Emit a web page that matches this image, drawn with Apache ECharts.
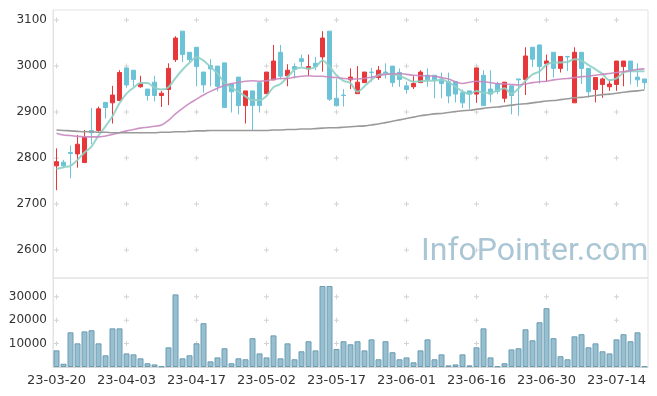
<!DOCTYPE html>
<html>
<head>
<meta charset="utf-8">
<script src="https://cdn.jsdelivr.net/npm/echarts@6/dist/echarts.min.js"></script>
<style>html,body{margin:0;padding:0;background:#fff}#c{width:657px;height:396px}</style>
</head>
<body>
<div id="c"></div>
<script>
var dates = ['23-03-20','23-03-21','23-03-22','23-03-23','23-03-24','23-03-27','23-03-28','23-03-29','23-03-30','23-03-31',
'23-04-03','23-04-04','23-04-05','23-04-06','23-04-07','23-04-10','23-04-11','23-04-12','23-04-13','23-04-14',
'23-04-17','23-04-18','23-04-19','23-04-20','23-04-21','23-04-24','23-04-25','23-04-26','23-04-27','23-04-28',
'23-05-02','23-05-03','23-05-04','23-05-08','23-05-09','23-05-10','23-05-11','23-05-12','23-05-15','23-05-16',
'23-05-17','23-05-18','23-05-19','23-05-22','23-05-23','23-05-24','23-05-25','23-05-26','23-05-30','23-05-31',
'23-06-01','23-06-02','23-06-05','23-06-07','23-06-08','23-06-09','23-06-12','23-06-13','23-06-14','23-06-15',
'23-06-16','23-06-19','23-06-20','23-06-21','23-06-22','23-06-23','23-06-26','23-06-27','23-06-28','23-06-29',
'23-06-30','23-07-03','23-07-04','23-07-05','23-07-06','23-07-07','23-07-10','23-07-11','23-07-12','23-07-13',
'23-07-14','23-07-17','23-07-18','23-07-19','23-07-20'];

var openP = [2783,2791,2812,2809,2790,2860,2860,2921,2920,2925,2996,2991,2955,2950,2965,2936,2949,3014,3076,3030,
3041,2987,3001,3000,3007,2961,2976,2914,2946,2964,2940,2970,3030,2979,2999,3016,2994,3006,3020,3076,
2930,2937,2970,2940,2964,2987,2975,2987,3000,2986,2957,2955,2964,2980,2980,2972,2966,2966,2942,2946,
2939,2980,2950,2961,2930,2957,2972,2971,3041,3046,3005,3030,2995,3021,2920,3030,2995,2949,2960,2955,
2960,2999,3011,2976,2972];
var closeP = [2792,2783,2810,2830,2845,2855,2907,2910,2937,2986,2959,2971,2962,2936,2936,2941,2995,3061,3025,3014,
2999,2959,2994,2956,2910,2944,2914,2946,2914,2914,2987,3011,2978,2991,2993,3010,2999,2999,3061,2928,
2914,2936,2976,2965,2987,2986,2991,2985,2964,2971,2949,2962,2987,2970,2970,2962,2935,2939,2920,2939,
2996,2914,2939,2945,2965,2936,2970,3022,3015,2999,3011,2995,3021,3020,3030,2995,2944,2975,2972,2961,
3011,3011,2991,2970,2964];
var lowP = [2730,2778,2756,2779,2790,2830,2857,2886,2875,2925,2953,2955,2953,2925,2923,2911,2915,3009,3009,3009,
2956,2942,2956,2945,2910,2899,2895,2875,2861,2899,2940,2970,2971,2956,2973,2999,2978,2991,2988,2924,
2912,2912,2950,2940,2964,2966,2970,2973,2955,2955,2940,2950,2964,2955,2930,2930,2919,2921,2909,2907,
2920,2914,2921,2939,2921,2895,2892,2937,2998,2962,2966,2975,2986,2989,2920,2961,2931,2921,2931,2946,
2946,2956,2960,2955,2950];
var highP = [2821,2796,2827,2850,2861,2909,2912,2921,2957,2991,2996,2991,2979,2950,2979,2946,3006,3065,3076,3030,
3041,2987,3015,3000,3007,2961,2976,2946,2946,2964,2987,3046,3046,3004,3006,3025,3025,3020,3076,3076,
2973,2950,2995,3000,2987,2996,3000,3006,3000,2995,2966,2978,2991,2995,2980,2986,2986,2966,2949,2946,
2996,2991,2991,2966,2965,2957,2972,3041,3041,3046,3025,3030,3021,3021,3041,3030,2995,2975,2975,2971,
3011,3011,3011,3006,2972];

var ma5 = [2776,2780,2783,2796,2812,2825,2849,2869,2891,2919,2940,2953,2963,2963,2953,2949,2954,2974,2992,3007,
3019,3012,2998,2984,2964,2953,2944,2934,2926,2926,2935,2954,2961,2976,2992,2997,2994,2998,3012,2999,
2980,2968,2963,2944,2956,2970,2981,2983,2983,2979,2972,2966,2967,2968,2968,2970,2965,2955,2945,2939,
2946,2942,2942,2947,2952,2940,2951,2968,2982,2988,3003,3008,3008,3009,3015,3012,3002,2993,2983,2969,
2973,2986,2989,2989,2989];
var ma20 = [2854,2850,2849,2847,2846,2846,2846,2848,2851,2855,2859,2862,2865,2867,2869,2872,2882,2896,2908,2919,
2928,2937,2945,2952,2958,2962,2965,2967,2968,2967,2968,2971,2973,2973,2976,2978,2979,2978,2978,2976,
2975,2973,2972,2972,2973,2976,2979,2982,2983,2984,2982,2980,2979,2979,2978,2975,2972,2966,2962,2965,
2967,2966,2964,2962,2961,2960,2959,2961,2964,2966,2967,2970,2972,2973,2975,2977,2978,2980,2982,2984,
2986,2988,2990,2993,2994];
var ma60 = [2861,2860,2859,2858,2857,2857,2856,2856,2855,2855,2855,2855,2855,2855,2855,2856,2856,2857,2857,2858,
2859,2859,2860,2860,2860,2860,2860,2860,2860,2860,2860,2861,2861,2862,2862,2863,2863,2864,2865,2866,
2866,2867,2868,2869,2870,2872,2874,2877,2880,2883,2886,2889,2892,2894,2896,2897,2899,2901,2903,2904,
2906,2908,2910,2911,2913,2915,2917,2918,2920,2922,2924,2925,2927,2929,2931,2932,2934,2936,2938,2939,
2941,2943,2945,2946,2948];
var volume = [7100,1400,14800,10100,15200,15700,10100,5000,16500,16500,5800,5400,3700,1600,1100,300,8400,31000,3700,5000,
10100,18700,2400,4100,8000,1600,3700,3300,12300,5800,4100,13500,3700,10100,3300,6700,11000,7100,34600,34600,
7700,11000,9700,11000,7100,11800,3300,11000,6300,3300,4100,2000,7100,11800,3300,5400,700,1100,5400,700,
8400,16500,4100,300,1600,7500,8000,16100,11400,19100,25100,12300,4600,3300,13100,14000,8400,10100,6700,5800,
11800,14000,11000,14800,300];

var priceTicks = [2600,2700,2800,2900,3000,3100];
var volumeTicks = [10000,20000,30000];
var labelIdx = [0,10,20,30,40,50,60,70,80];

var candles = openP.map(function(o,i){return [o, closeP[i], lowP[i], highP[i]];});
var crossPrice = [], crossVol = [];
labelIdx.forEach(function(x){
  priceTicks.forEach(function(y){crossPrice.push([x,y]);});
  volumeTicks.forEach(function(y){crossVol.push([x,y]);});
});
var plus = 'path://M2,0H3V2H5V3H3V5H2V3H0V2H2Z';
var font = 'DejaVu Sans';

var chart = echarts.init(document.getElementById('c'), null, {renderer:'canvas'});
chart.setOption({
  animation:false,
  backgroundColor:'#fff',
  graphic:[{type:'text', left:421, top:236, z:0, silent:true,
    style:{text:'InfoPointer.com', fill:'#aac6d5', font:'32px Roboto'}}],
  grid:[
    {left:53, right:9, top:10, height:268, show:true, borderColor:'#e3e3e3', borderWidth:1, backgroundColor:'transparent'},
    {left:53, right:9, top:278, height:89, show:true, borderColor:'#e3e3e3', borderWidth:1, backgroundColor:'transparent'}
  ],
  xAxis:[
    {type:'category', gridIndex:0, data:dates, boundaryGap:true,
     axisLine:{show:false}, axisTick:{show:false}, axisLabel:{show:false}, splitLine:{show:false}},
    {type:'category', gridIndex:1, data:dates, boundaryGap:true,
     axisLine:{show:true, lineStyle:{color:'#d6d6d6'}}, axisTick:{show:false},
     axisLabel:{interval:9, fontSize:13, fontFamily:font, color:'#333', margin:7}, splitLine:{show:false}}
  ],
  yAxis:[
    {type:'value', gridIndex:0, min:2539, max:3122, scale:true,
     axisLine:{show:true, lineStyle:{color:'#e3e3e3'}}, axisTick:{show:false}, splitLine:{show:false},
     axisLabel:{fontSize:12, fontFamily:font, color:'#333', margin:6, showMinLabel:false, showMaxLabel:false,
       formatter:function(v){return priceTicks.indexOf(v)>=0 ? String(v) : '';}}},
    {type:'value', gridIndex:1, min:0, max:38000, interval:10000,
     axisLine:{show:true, lineStyle:{color:'#e3e3e3'}}, axisTick:{show:false}, splitLine:{show:false},
     axisLabel:{fontSize:12, fontFamily:font, color:'#333', margin:6, showMinLabel:false, showMaxLabel:false,
       formatter:function(v){return volumeTicks.indexOf(v)>=0 ? String(v) : '';}}}
  ],
  series:[
    {type:'scatter', xAxisIndex:0, yAxisIndex:0, data:crossPrice, symbol:plus, symbolSize:5, silent:true, z:1,
     itemStyle:{color:'#d4d4d4', opacity:1}},
    {type:'scatter', xAxisIndex:1, yAxisIndex:1, data:crossVol, symbol:plus, symbolSize:5, silent:true, z:1,
     itemStyle:{color:'#d4d4d4', opacity:1}},
    {type:'candlestick', xAxisIndex:0, yAxisIndex:0, data:candles, barWidth:5, z:3,
     itemStyle:{color:'#e8373a', color0:'#6cc3d8', borderColor:'#e8373a', borderColor0:'#6cc3d8', borderWidth:1}},
    {type:'line', xAxisIndex:0, yAxisIndex:0, data:ma5, smooth:0.3, symbol:'none', z:4,
     lineStyle:{color:'#8fd0c5', width:2, opacity:0.9}},
    {type:'line', xAxisIndex:0, yAxisIndex:0, data:ma20, smooth:0.3, symbol:'none', z:4,
     lineStyle:{color:'#c987bf', width:1.6, opacity:0.9}},
    {type:'line', xAxisIndex:0, yAxisIndex:0, data:ma60, smooth:0.3, symbol:'none', z:4,
     lineStyle:{color:'#9a9a9a', width:1.6}},
    {type:'bar', xAxisIndex:1, yAxisIndex:1, data:volume, barWidth:6, z:3,
     itemStyle:{color:'#97bfcf', borderColor:'#6b9cb2', borderWidth:1}}
  ]
});
</script>
</body>
</html>
